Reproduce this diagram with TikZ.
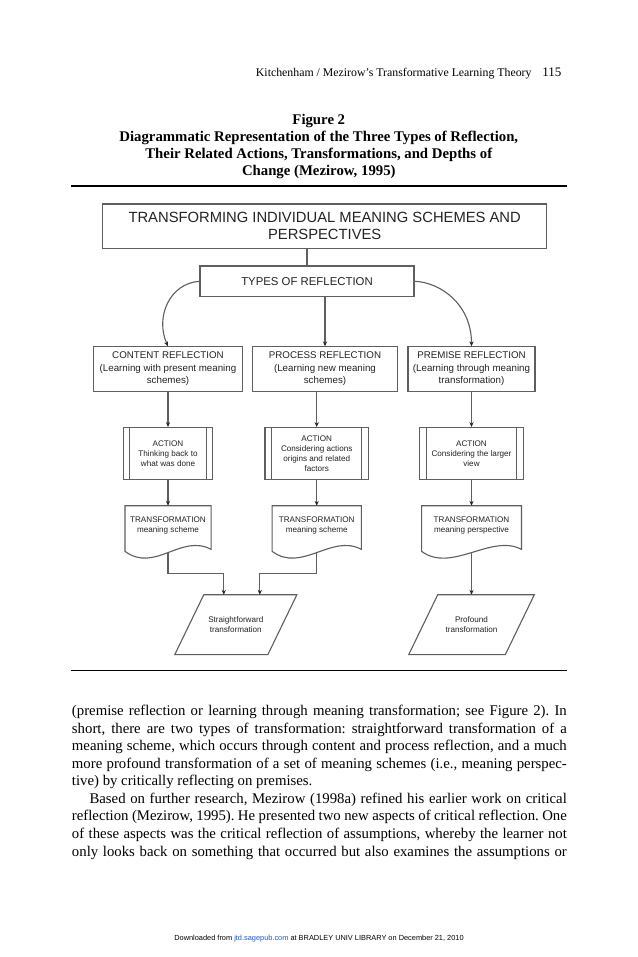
\documentclass[tikz,border=0pt]{standalone}
\usepackage{fontspec}
\setmainfont{Liberation Serif}
\setsansfont{Liberation Sans}
\usetikzlibrary{arrows.meta,calc}

\newcommand\pxu{0.677pt}
\definecolor{chartline}{RGB}{95,95,95}
\definecolor{charttext}{RGB}{35,35,35}
\definecolor{linkblue}{RGB}{30,90,200}

\tikzset{
  conn/.style={draw=chartline, line width=0.75pt},
  arrow/.style={conn, -{Stealth[length=3.3pt,width=2.8pt,color=black!85]}},
  chartbox/.style={draw=chartline, line width=0.75pt, text=charttext, align=center},
  actionbox/.style={chartbox, minimum height=51.5*\pxu,
    font=\sffamily\fontsize{5.5}{6.8}\selectfont},
  docbox/.style={text=charttext, align=center, minimum height=39.5*\pxu,
    font=\sffamily\fontsize{5.5}{7}\selectfont},
  depthbox/.style={text=charttext, align=center, minimum height=59.3*\pxu,
    font=\sffamily\fontsize{5.5}{7}\selectfont},
}

\begin{document}
\begin{tikzpicture}[x=\pxu, y=-\pxu]
  \fill[white] (0,0) rectangle (638,957);
  \useasboundingbox (0,0) rectangle (638,957);

  % running head
  \node[anchor=base east, font=\fontsize{8}{9.6}\selectfont] (head) at (536.7,76)
    {Kitchenham / Mezirow’s Transformative Learning Theory};
  \node[anchor=base east, font=\fontsize{8.8}{10}\selectfont] (page) at (566.7,76) {115};

  % caption
  \node[anchor=base, font=\fontsize{10}{12}\selectfont\bfseries] (fig) at (318.8,124) {Figure 2};
  \node[anchor=base, font=\fontsize{10}{12}\selectfont\bfseries] (cap1) at (318.8,141.7)
    {Diagrammatic Representation of the Three Types of Reflection,};
  \node[anchor=base, font=\fontsize{10}{12}\selectfont\bfseries] (cap2) at (318.8,158.3)
    {Their Related Actions, Transformations, and Depths of};
  \node[anchor=base, font=\fontsize{10}{12}\selectfont\bfseries] (cap3) at (318.8,175)
    {Change (Mezirow, 1995)};
  \draw[line width=0.8pt] (70.7,186) -- (567.3,186);

  % chart
  \node[chartbox, minimum width=444*\pxu, minimum height=44.3*\pxu,
    font=\sffamily\fontsize{10}{11.7}\selectfont] (ti) at (324.7,226.2)
    {TRANSFORMING INDIVIDUAL MEANING SCHEMES AND\\PERSPECTIVES};
  \node[chartbox, minimum width=214*\pxu, minimum height=30.7*\pxu,
    font=\sffamily\fontsize{7.7}{9}\selectfont] (ty) at (307,281.3) {TYPES OF REFLECTION};

  \node[chartbox, minimum width=148.3*\pxu, minimum height=44.3*\pxu,
    font=\sffamily\fontsize{6.6}{8.5}\selectfont] (co) at (168,369)
    {CONTENT REFLECTION\\(Learning with present meaning\\schemes)};
  \node[chartbox, minimum width=144.6*\pxu, minimum height=44.3*\pxu,
    font=\sffamily\fontsize{6.6}{8.5}\selectfont] (pr) at (325,369)
    {PROCESS REFLECTION\\(Learning new meaning\\schemes)};
  \node[chartbox, minimum width=126*\pxu, minimum height=44.3*\pxu,
    font=\sffamily\fontsize{6.6}{8.5}\selectfont] (pm) at (471.5,369)
    {PREMISE REFLECTION\\(Learning through meaning\\transformation)};

  \node[actionbox, minimum width=89.4*\pxu] (a1) at (168,453.3)
    {ACTION\\Thinking back to\\what was done};
  \node[actionbox, minimum width=103.3*\pxu] (a2) at (316.7,453.3)
    {ACTION\\Considering actions\\origins and related\\factors};
  \node[actionbox, minimum width=103.3*\pxu] (a3) at (471.5,453.3)
    {ACTION\\Considering the larger\\view};
  \foreach \n in {a1,a2,a3}{
    \draw[conn] ($(\n.north west)+(7,0)$) -- ($(\n.south west)+(7,0)$);
    \draw[conn] ($(\n.north east)+(-7,0)$) -- ($(\n.south east)+(-7,0)$);
  }

  \node[docbox, minimum width=82.6*\pxu] (d1) at (168,525.8) {TRANSFORMATION\\meaning scheme};
  \node[docbox, minimum width=88.7*\pxu] (d2) at (316.7,525.8) {TRANSFORMATION\\meaning scheme};
  \node[docbox, minimum width=99.3*\pxu] (d3) at (471.5,525.8) {TRANSFORMATION\\meaning perspective};
  \foreach \n in {d1,d2,d3}{
    \draw[conn] (\n.north west) -- (\n.north east) -- ($(\n.south east)+(0,3.5)$)
      .. controls +(-30,-16) and +(30,22) .. ($(\n.south west)+(0,5.5)$) -- cycle;
    \coordinate (\n b) at ($(\n.south)+(0,7.5)$);
  }

  \node[depthbox, minimum width=92.5*\pxu] (p1) at (235.8,624.7) {Straightforward\\transformation};
  \node[depthbox, minimum width=96*\pxu] (p2) at (471.5,624.7) {Profound\\transformation};
  \foreach \n in {p1,p2}
    \draw[conn] ($(\n.south west)+(-14.5,0)$) -- ($(\n.south east)+(-14.5,0)$)
      -- ($(\n.north east)+(14.5,0)$) -- ($(\n.north west)+(14.5,0)$) -- cycle;

  \draw[conn] (ty.north |- ti.south) -- (ty.north);
  \draw[arrow] (ty.west) .. controls +(-30,2) and +(-13,-29) .. (co.north);
  \draw[arrow] (pr.north |- ty.south) -- (pr.north);
  \draw[arrow] (ty.east) .. controls +(26,1) and +(0,-42) .. (pm.north);
  \draw[arrow] (co) -- (a1);
  \draw[arrow] (a2.north |- pr.south) -- (a2.north);
  \draw[arrow] (pm) -- (a3);
  \draw[arrow] (a1) -- (d1);
  \draw[arrow] (a2) -- (d2);
  \draw[arrow] (a3) -- (d3);
  \draw[arrow] (d1b) -- ++(0,20) -| ($(p1.north)+(-12,0)$);
  \draw[arrow] (d2b) -- ++(0,20) -| ($(p1.north)+(24,0)$);
  \draw[arrow] (d3b) -- (p2.north);

  \draw[line width=0.8pt] (70.7,670.7) -- (567.3,670.7);

  % text below the figure
  \node[anchor=base west, text width=335pt, align=justify, inner sep=0pt,
    font=\fontsize{10}{11.9}\selectfont\frenchspacing] (body) at (71.7,715.5)
    {(premise reflection or learning through meaning transformation; see Figure~2). In\linebreak
    short, there are two types of transformation: straightforward transformation of a\linebreak
    meaning scheme, which occurs through content and process reflection, and a much\linebreak
    more profound transformation of a set of meaning schemes (i.e., meaning perspec-\linebreak
    tive) by critically reflecting on premises.\par
    \hspace*{11.9pt}Based on further research, Mezirow (1998a) refined his earlier work on critical\linebreak
    reflection (Mezirow, 1995). He presented two new aspects of critical reflection. One\linebreak
    of these aspects was the critical reflection of assumptions, whereby the learner not\linebreak
    only looks back on something that occurred but also examines the assumptions or\parfillskip=0pt\par};

  \node[anchor=base, font=\sffamily\fontsize{5}{6}\selectfont] (foot) at (319,940.7)
    {Downloaded from \textcolor{linkblue}{jtd.sagepub.com} at BRADLEY UNIV LIBRARY on December 21, 2010};
\end{tikzpicture}
\end{document}
